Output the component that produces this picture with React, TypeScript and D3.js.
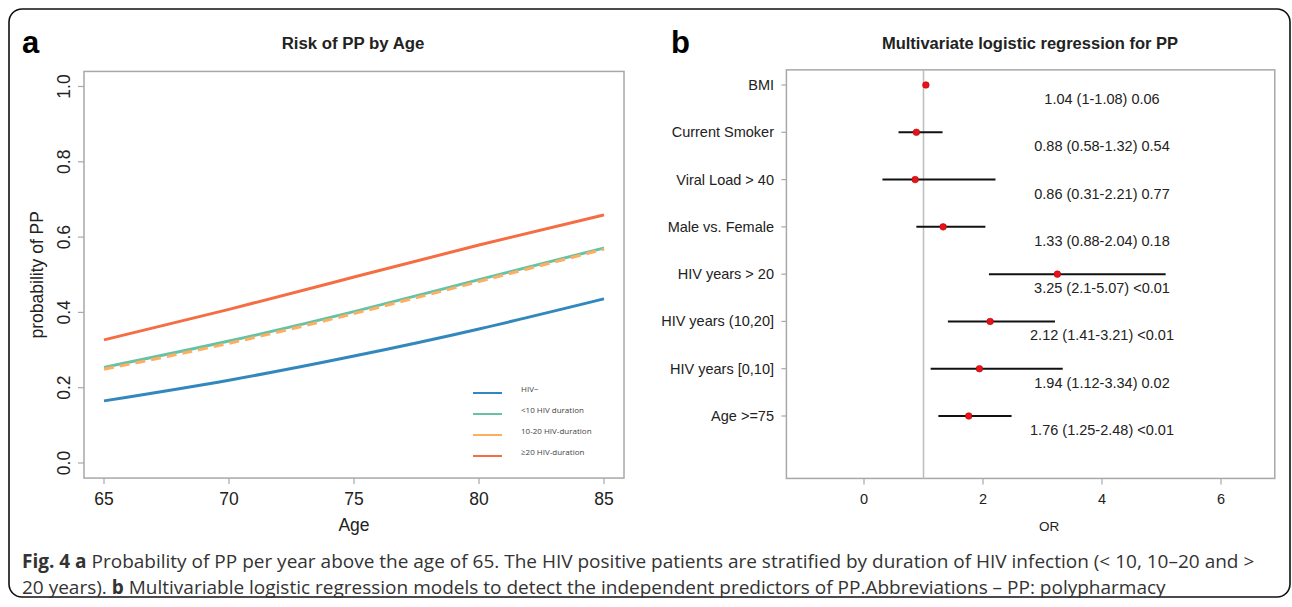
import React, { useEffect, useRef } from 'react';
import * as d3 from 'd3';

// panel a: predicted probability of PP by age
const ages = [65, 70, 75, 80, 85];
const hivNegative = [0.165, 0.22, 0.284, 0.356, 0.436];
const hivUnder10 = [0.254, 0.324, 0.402, 0.487, 0.571];
const hiv10to20 = [0.249, 0.318, 0.397, 0.482, 0.568];
const hivOver20 = [0.327, 0.408, 0.494, 0.579, 0.659];
const seriesNames = ['HIV\u2212', '<10 HIV duration', '10-20 HIV-duration', '\u226520  HIV-duration'];
const seriesColors = ['#3288bd', '#66c2a5', '#fdae61', '#f46d43'];
const ageTicks = [65, 70, 75, 80, 85];
const probTicks = [0, 0.2, 0.4, 0.6, 0.8, 1.0];

// panel b: multivariate logistic regression
const predictors = ['BMI', 'Current Smoker', 'Viral Load > 40', 'Male vs. Female', 'HIV years > 20', 'HIV years (10,20]', 'HIV years [0,10]', 'Age >=75'];
const oddsRatios = [1.04, 0.88, 0.86, 1.33, 3.25, 2.12, 1.94, 1.76];
const lowerCI = [1, 0.58, 0.31, 0.88, 2.1, 1.41, 1.12, 1.25];
const upperCI = [1.08, 1.32, 2.21, 2.04, 5.07, 3.21, 3.34, 2.48];
const pValues = ['0.06', '0.54', '0.77', '0.18', '<0.01', '<0.01', '0.02', '<0.01'];
const orTicks = [0, 2, 4, 6];

const FONT = '"Liberation Sans", Arial, Helvetica, sans-serif';
const BOX = '#a8a8a8';
const INK = '#222';

const App: React.FC = () => {
  const svgRef = useRef<SVGSVGElement | null>(null);

  useEffect(() => {
    const svg = d3.select(svgRef.current);
    svg.selectAll('*').remove();

    // outer frame
    svg.append('rect')
      .attr('x', 9).attr('y', 9).attr('width', 1281).attr('height', 588)
      .attr('rx', 13).attr('fill', 'none').attr('stroke', '#111').attr('stroke-width', 1.6);

    // ---------- panel a ----------
    const xA = d3.scaleLinear().domain([65, 85]).range([104, 604]);
    const yA = d3.scaleLinear().domain([0, 1]).range([463, 86.5]);
    const a = svg.append('g').attr('font-family', FONT);

    a.append('text').attr('x', 22).attr('y', 53).attr('font-size', 31).attr('font-weight', 'bold').text('a');
    a.append('text').attr('x', 353).attr('y', 49).attr('text-anchor', 'middle')
      .attr('font-size', 16.8).attr('font-weight', 'bold').attr('fill', INK).text('Risk of PP by Age');

    a.append('rect')
      .attr('x', xA(64.2)).attr('y', yA(1.04))
      .attr('width', xA(85.8) - xA(64.2)).attr('height', yA(-0.04) - yA(1.04))
      .attr('fill', 'none').attr('stroke', BOX).attr('stroke-width', 1.5);

    a.selectAll('.ytick').data(probTicks).enter().append('line')
      .attr('x1', xA(64.2) - 6).attr('x2', xA(64.2))
      .attr('y1', (d) => yA(d)).attr('y2', (d) => yA(d))
      .attr('stroke', BOX).attr('stroke-width', 1.2);
    a.selectAll('.ylab').data(probTicks).enter().append('text')
      .attr('transform', (d) => `translate(69.5,${yA(d)}) rotate(-90)`)
      .attr('text-anchor', 'middle').attr('font-size', 17.5).attr('fill', INK)
      .text((d) => d.toFixed(1));

    a.selectAll('.xtick').data(ageTicks).enter().append('line')
      .attr('x1', (d) => xA(d)).attr('x2', (d) => xA(d))
      .attr('y1', yA(-0.04)).attr('y2', yA(-0.04) + 6)
      .attr('stroke', BOX).attr('stroke-width', 1.2);
    a.selectAll('.xlab').data(ageTicks).enter().append('text')
      .attr('x', (d) => xA(d)).attr('y', 504.5)
      .attr('text-anchor', 'middle').attr('font-size', 17.5).attr('fill', INK)
      .text((d) => d);

    a.append('text').attr('x', 354).attr('y', 531).attr('text-anchor', 'middle')
      .attr('font-size', 17.5).attr('fill', INK).text('Age');
    a.append('text').attr('transform', `translate(43,${yA(0.5)}) rotate(-90)`)
      .attr('text-anchor', 'middle').attr('font-size', 17.5).attr('fill', INK).text('probability of PP');

    const line = d3.line<[number, number]>()
      .x((d) => xA(d[0])).y((d) => yA(d[1])).curve(d3.curveNatural);
    const series = [hivNegative, hivUnder10, hiv10to20, hivOver20];
    series.forEach((vals, i) => {
      a.append('path')
        .attr('d', line(ages.map((age, j) => [age, vals[j]] as [number, number])))
        .attr('fill', 'none').attr('stroke', seriesColors[i]).attr('stroke-width', 3)
        .attr('stroke-dasharray', i === 2 ? '10,6' : null);
    });

    // legend
    const legendRows = [393, 414, 435, 456];
    seriesNames.forEach((name, i) => {
      a.append('line')
        .attr('x1', 473).attr('x2', 502).attr('y1', legendRows[i]).attr('y2', legendRows[i])
        .attr('stroke', seriesColors[i]).attr('stroke-width', 2);
      a.append('text').attr('x', 521).attr('y', legendRows[i] - 1)
        .attr('font-family', '"Open Sans", sans-serif')
        .attr('font-size', 8).attr('fill', '#444').text(name);
    });

    // ---------- panel b ----------
    const xB = d3.scaleLinear().domain([0, 6]).range([864, 1221]);
    const yB = d3.scaleLinear().domain([0, 8]).range([463.3, 85]);
    const rowVal = (i: number) => predictors.length - i;
    const b = svg.append('g').attr('font-family', FONT);

    b.append('text').attr('x', 671).attr('y', 53).attr('font-size', 31).attr('font-weight', 'bold').text('b');
    b.append('text').attr('x', 1030).attr('y', 49).attr('text-anchor', 'middle')
      .attr('font-size', 16.5).attr('font-weight', 'bold').attr('fill', INK)
      .text('Multivariate logistic regression for PP');

    const bx0 = xB(-1.304);
    const bx1 = xB(6.904);
    const by0 = yB(8.32);
    const by1 = yB(-0.32);
    b.append('rect').attr('x', bx0).attr('y', by0).attr('width', bx1 - bx0).attr('height', by1 - by0)
      .attr('fill', 'none').attr('stroke', BOX).attr('stroke-width', 1.5);
    b.append('line').attr('x1', xB(1)).attr('x2', xB(1)).attr('y1', by0).attr('y2', by1)
      .attr('stroke', '#bdbdbd').attr('stroke-width', 1.5);

    b.selectAll('.ytick').data(predictors).enter().append('line')
      .attr('x1', bx0 - 5).attr('x2', bx0)
      .attr('y1', (_, i) => yB(rowVal(i))).attr('y2', (_, i) => yB(rowVal(i)))
      .attr('stroke', BOX).attr('stroke-width', 1.2);
    b.selectAll('.ylab').data(predictors).enter().append('text')
      .attr('x', 774).attr('y', (_, i) => yB(rowVal(i)) + 5)
      .attr('text-anchor', 'end').attr('font-size', 14.5).attr('fill', INK)
      .text((d) => d);

    b.selectAll('.xtick').data(orTicks).enter().append('line')
      .attr('x1', (d) => xB(d)).attr('x2', (d) => xB(d))
      .attr('y1', by1).attr('y2', by1 + 6)
      .attr('stroke', BOX).attr('stroke-width', 1.2);
    b.selectAll('.xlab').data(orTicks).enter().append('text')
      .attr('x', (d) => xB(d)).attr('y', 503.5)
      .attr('text-anchor', 'middle').attr('font-size', 14.5).attr('fill', INK)
      .text((d) => d);
    b.append('text').attr('x', 1049).attr('y', 531).attr('text-anchor', 'middle')
      .attr('font-size', 13.5).attr('fill', INK).text('OR');

    predictors.forEach((_, i) => {
      const y = yB(rowVal(i));
      b.append('line').attr('x1', xB(lowerCI[i])).attr('x2', xB(upperCI[i]))
        .attr('y1', y).attr('y2', y).attr('stroke', '#111').attr('stroke-width', 2);
      b.append('circle').attr('cx', xB(oddsRatios[i])).attr('cy', y).attr('r', 3.3)
        .attr('fill', '#e8121a').attr('stroke', '#b00').attr('stroke-width', 0.6);
      b.append('text').attr('x', xB(4)).attr('y', y + 19)
        .attr('text-anchor', 'middle').attr('font-size', 14.5).attr('fill', INK)
        .text(`${oddsRatios[i]} (${lowerCI[i]}-${upperCI[i]}) ${pValues[i]}`);
    });

    // ---------- caption ----------
    const cap = svg.append('g').attr('font-family', '"Open Sans", "Noto Sans", sans-serif')
      .attr('font-size', 19).attr('fill', '#333');
    const l1 = cap.append('text').attr('x', 22).attr('y', 568);
    l1.append('tspan').attr('font-weight', 'bold').text('Fig. 4 a');
    l1.append('tspan').text(' Probability of PP per year above the age of 65. The HIV positive patients are stratified by duration of HIV infection (< 10, 10\u201320 and >');
    const l2 = cap.append('text').attr('x', 22).attr('y', 594);
    l2.append('tspan').text('20 years). ');
    l2.append('tspan').attr('font-weight', 'bold').text('b');
    l2.append('tspan').text(' Multivariable logistic regression models to detect the independent predictors of PP.Abbreviations \u2013 PP: polypharmacy');
  }, []);

  return (
    <svg
      ref={svgRef}
      width={1292}
      height={607}
      style={{ position: 'absolute', left: 0, top: 0, background: '#fff' }}
    />
  );
};

export default App;
